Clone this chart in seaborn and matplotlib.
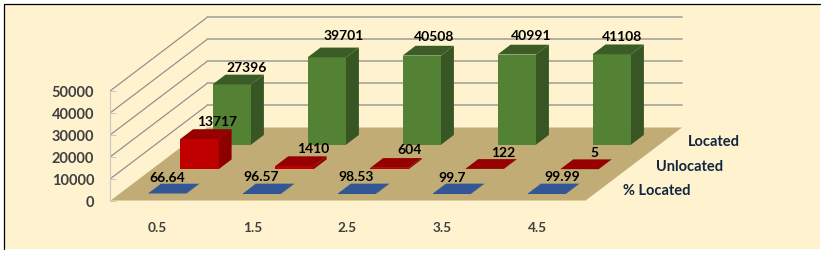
import matplotlib
matplotlib.use('Agg')
import matplotlib.pyplot as plt
import seaborn as sns
import pandas as pd
from matplotlib.patches import Polygon, Rectangle

categories = [0.5, 1.5, 2.5, 3.5, 4.5]
located = [27396, 39701, 40508, 40991, 41108]
unlocated = [13717, 1410, 604, 122, 5]
pct_located = [66.64, 96.57, 98.53, 99.7, 99.99]
series_names = ['% Located', 'Unlocated', 'Located']
y_ticks = [0, 10000, 20000, 30000, 40000, 50000]

# label nudges in pixels, the labels were moved by hand in the original
located_off = [(14.5, 16.7), (16.8, 21), (12.5, 18.7), (14.7, 18.7), (10, 17.7)]
unlocated_off = [(18, 17), (19, 17.4), (20, 17.5), (19, 16), (15, 16)]
pct_off = [(0, 16), (-1, 16), (-1, 16), (-0.5, 15.5), (15, 16)]

W, H = 824, 253
PX_CAT = 95.0      # pixels per category
PX_VAL = 0.0022    # pixels per unit of value
DEPTH_X = 97 / PX_CAT
DEPTH_Y = 73.5 / PX_VAL
BAR_WIDTH = 38.4 / PX_CAT
BAR_DEPTH = 0.133
BG = '#FFF2CE'
FLOOR = '#C0AC74'

sns.set_theme(style='white')
plt.rcParams['font.family'] = ['Lato', 'DejaVu Sans']
plt.rcParams['font.weight'] = 'bold'


def project(cat, depth, val):
    return cat + depth * DEPTH_X, val + depth * DEPTH_Y


# the small extra keeps savefig from rounding the height down to 252
fig = plt.figure(figsize=((W + 0.01) / 100, (H + 0.01) / 100), dpi=100, facecolor='white')
fig.add_artist(Rectangle((3.5 / W, 1 - 249 / H), 816.5 / W, 245 / H, transform=fig.transFigure,
                         facecolor=BG, edgecolor='none', zorder=-2))
fig.add_artist(plt.Line2D([3.5 / W, 3.5 / W, 820 / W], [1 - 249 / H, 1 - 4.5 / H, 1 - 4.5 / H],
                          color='black', lw=0.9, zorder=-1))

ax = fig.add_axes([110 / W, 1 - 201 / H, 714 / W, 201 / H])
ax.patch.set_alpha(0)

# floor and walls
floor = [project(0, 0, 0), project(5, 0, 0), project(5, 1, 0), project(0, 1, 0)]
ax.add_patch(Polygon(floor, closed=True, facecolor=FLOOR, edgecolor='none', zorder=0.4))
ax.plot([0, 5], [0, 0], color='#E6D6A4', lw=1.2, zorder=0.6, solid_capstyle='butt')
for v in y_ticks[1:]:
    x0, y0 = project(0, 0, v)
    x1, y1 = project(0, 1, v)
    x2, y2 = project(5, 1, v)
    ax.plot([x0, x1], [y0, y1], color='#8E8E88', lw=0.85, zorder=0.5)
    ax.plot([x1, x2], [y1, y2], color='#A8A89E', lw=1.25, zorder=0.5)


def draw_series(values, depth, front, side, top):
    x_pos = [project(c, depth, 0)[0] for c in categories]
    base = project(0, depth, 0)[1]
    df = pd.DataFrame({'x': x_pos, 'v': values})
    sns.barplot(data=df, x='x', y='v', native_scale=True, color=front, saturation=1,
                width=BAR_WIDTH, bottom=base, errorbar=None, linewidth=0, ax=ax)
    for cat, val in zip(categories, values):
        lft = cat - BAR_WIDTH / 2
        rgt = cat + BAR_WIDTH / 2
        ax.add_patch(Polygon([project(rgt, depth, 0), project(rgt, depth + BAR_DEPTH, 0),
                              project(rgt, depth + BAR_DEPTH, val), project(rgt, depth, val)],
                             closed=True, facecolor=side, edgecolor='none'))
        ax.add_patch(Polygon([project(lft, depth, val), project(rgt, depth, val),
                              project(rgt, depth + BAR_DEPTH, val), project(lft, depth + BAR_DEPTH, val)],
                             closed=True, facecolor=top, edgecolor='none'))


def label_series(values, depth, offsets):
    for cat, val, off in zip(categories, values, offsets):
        ax.annotate(str(val), project(cat, depth, val), xytext=off, textcoords='offset pixels',
                    ha='center', va='center', fontsize=10, color='black', annotation_clip=False, zorder=5)


depths = [0.1, 0.433, 0.766]
draw_series(located, depths[2], '#548235', '#375623', '#3B5C26')
draw_series(unlocated, depths[1], '#C00000', '#8E0000', '#960000')
draw_series(pct_located, depths[0], '#2F5597', '#2A4C88', '#335795')

label_series(located, depths[2], located_off)
label_series(unlocated, depths[1], unlocated_off)
label_series(pct_located, depths[0], pct_off)

# series names along the right edge of the floor
for name, depth in zip(series_names, [0.167, 0.5, 0.833]):
    ax.annotate(name, project(5, depth, 0), xytext=(22, -2.5), textcoords='offset pixels',
                ha='left', va='center', fontsize=10.5, color='#12263F', annotation_clip=False)

ax.set_xlim(0, 714 / PX_CAT)
ax.set_ylim(0, 201 / PX_VAL)
ax.set_xticks(categories)
ax.set_xticklabels([str(c) for c in categories])
ax.set_yticks(y_ticks)
ax.set_yticklabels([str(v) for v in y_ticks])
ax.set_xlabel('')
ax.set_ylabel('')
ax.tick_params(axis='x', length=0, pad=15, labelsize=9.8, labelcolor='#404040')
ax.tick_params(axis='y', direction='in', length=4.3, width=0.7, color='#C8C8C0', pad=11.5,
               labelsize=10.5, labelcolor='#404040', left=True)
for s in ['top', 'right', 'bottom']:
    ax.spines[s].set_visible(False)
ax.spines['left'].set_bounds(0, 50000)
ax.spines['left'].set_color('#C8C8C0')
ax.spines['left'].set_linewidth(0.8)

plt.savefig('out.png', dpi=100)
plt.close()
